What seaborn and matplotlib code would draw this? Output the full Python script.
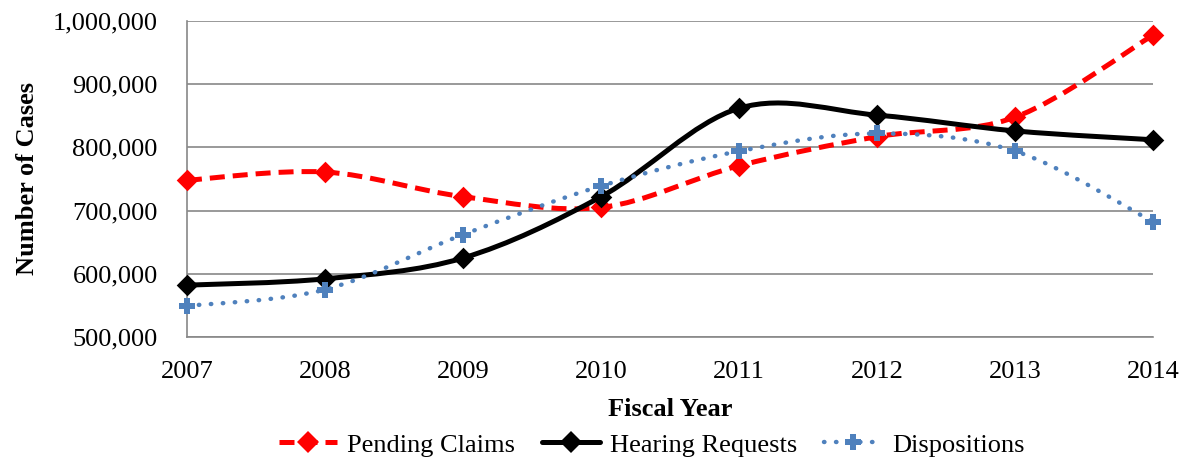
import numpy as np
import pandas as pd
import matplotlib
matplotlib.use("Agg")
import matplotlib.pyplot as plt
from matplotlib.path import Path
from matplotlib.patches import PathPatch
from matplotlib.lines import Line2D
from matplotlib.ticker import FuncFormatter
import seaborn as sns

# values
years = [2007, 2008, 2009, 2010, 2011, 2012, 2013, 2014]
pending_claims = [748000, 761000, 722000, 705000, 771000, 817000, 848000, 978000]
hearing_requests = [582000, 592000, 625000, 722000, 862000, 851000, 826000, 812000]
dispositions = [549000, 575000, 662000, 739000, 794000, 822000, 794000, 682000]

series_names = ["Pending Claims", "Hearing Requests", "Dispositions"]
series_values = [pending_claims, hearing_requests, dispositions]


def smooth_path(x, y):
    # Excel-style smoothed line: cubic bezier through the points
    pts = np.column_stack([x, y]).astype(float)
    n = len(pts)
    verts = [pts[0]]
    codes = [Path.MOVETO]
    for i in range(n - 1):
        p0 = pts[i - 1] if i > 0 else pts[i]
        p1 = pts[i]
        p2 = pts[i + 1]
        p3 = pts[i + 2] if i + 2 < n else pts[i + 1]
        c1 = p1 + (p2 - p0) / 6.0
        c2 = p2 - (p3 - p1) / 6.0
        verts += [c1, c2, p2]
        codes += [Path.CURVE4] * 3
    return Path(verts, codes)


sns.set_style("white")
plt.rcParams["font.family"] = ["Liberation Serif", "DejaVu Serif"]
plt.rcParams["text.color"] = "black"
plt.rcParams["axes.labelcolor"] = "black"
FS = 19

df = pd.DataFrame({"Fiscal Year": years})
for name, vals in zip(series_names, series_values):
    df[name] = vals
long_df = df.melt(id_vars="Fiscal Year", var_name="Series", value_name="Cases")

fig = plt.figure(figsize=(11.83, 4.62), dpi=100)
ax = fig.add_axes([0.158, 0.2706, 0.817, 0.684])

styles = {
    "Pending Claims": dict(color="#FF0000", ls=(0, (3.0, 1.6)), lw=3.6, marker="D", ms=11),
    "Hearing Requests": dict(color="#000000", ls="-", lw=3.6, marker="D", ms=11),
    "Dispositions": dict(color="#4F81BD", ls=(0, (0.1, 2.6)), lw=3.2, marker="P", ms=12),
}

for name in series_names:
    st = styles[name]
    sub = long_df[long_df["Series"] == name]
    patch = PathPatch(smooth_path(sub["Fiscal Year"], sub["Cases"]), fill=False,
                      edgecolor=st["color"], lw=st["lw"], linestyle=st["ls"],
                      capstyle="round" if name == "Dispositions" else "butt", zorder=2)
    ax.add_patch(patch)
    sns.scatterplot(data=sub, x="Fiscal Year", y="Cases", ax=ax, color=st["color"],
                    marker=st["marker"], s=st["ms"] ** 2, edgecolor=st["color"],
                    linewidth=0, zorder=3, legend=False, clip_on=False)

ax.set_xlim(2007, 2014)
ax.set_ylim(500000, 1000000)
ax.set_xticks(years)
ax.set_yticks(np.arange(500000, 1000001, 100000))
ax.yaxis.set_major_formatter(FuncFormatter(lambda v, p: f"{int(v):,}"))
ax.grid(axis="y", color="#888888", lw=1.2)
ax.set_axisbelow(True)
for s in ["top", "right"]:
    ax.spines[s].set_visible(False)
for s in ["left", "bottom"]:
    ax.spines[s].set_color("#888888")
    ax.spines[s].set_linewidth(1.2)
ax.tick_params(axis="both", labelsize=FS, colors="#888888", labelcolor="black",
               length=6, width=1.2, direction="out")
ax.tick_params(axis="y", pad=15)
ax.tick_params(axis="x", pad=11)

ax.set_xlabel("Fiscal Year", fontsize=FS, fontweight="bold", labelpad=11)
ax.set_ylabel("Number of Cases", fontsize=FS, fontweight="bold", labelpad=10)

handles = [Line2D([], [], color=styles[n]["color"], ls=styles[n]["ls"], lw=styles[n]["lw"],
                  marker=styles[n]["marker"], ms=styles[n]["ms"], mew=0,
                  dash_capstyle="round" if n == "Dispositions" else "butt")
           for n in series_names]
fig.legend(handles, series_names, loc="center", bbox_to_anchor=(0.551, 0.037), ncol=3,
           frameon=False, fontsize=FS, handlelength=2.2, columnspacing=1.0, handletextpad=0.4)

fig.savefig("out.png", dpi=100)
